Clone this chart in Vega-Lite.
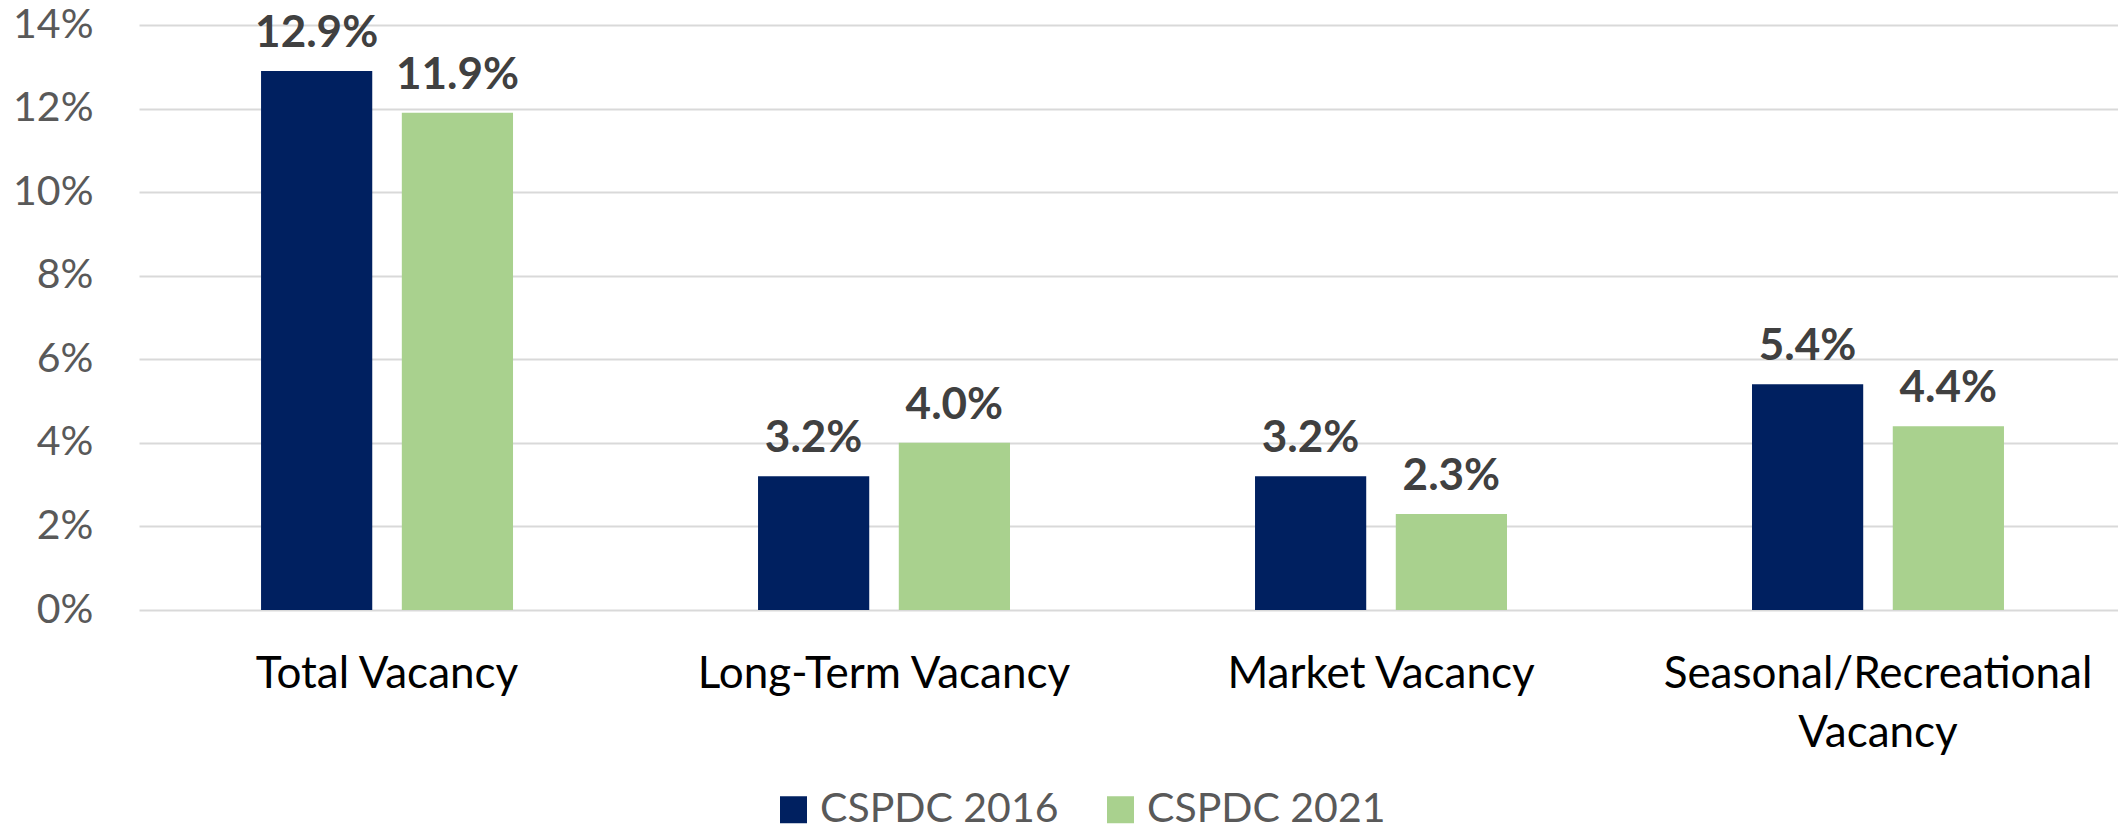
{
  "$schema": "https://vega.github.io/schema/vega-lite/v6.json",
  "width": 1979,
  "height": 585,
  "autosize": {"type": "none"},
  "padding": {"left": 139, "top": 25, "right": 0, "bottom": 219},
  "background": "white",
  "data": {
    "values": [
      {"category": "Total Vacancy", "series": "CSPDC 2016", "value": 0.129},
      {"category": "Total Vacancy", "series": "CSPDC 2021", "value": 0.119},
      {"category": "Long-Term Vacancy", "series": "CSPDC 2016", "value": 0.032},
      {"category": "Long-Term Vacancy", "series": "CSPDC 2021", "value": 0.040},
      {"category": "Market Vacancy", "series": "CSPDC 2016", "value": 0.032},
      {"category": "Market Vacancy", "series": "CSPDC 2021", "value": 0.023},
      {"category": "Seasonal/Recreational Vacancy", "series": "CSPDC 2016", "value": 0.054},
      {"category": "Seasonal/Recreational Vacancy", "series": "CSPDC 2021", "value": 0.044}
    ]
  },
  "encoding": {
    "x": {
      "field": "category",
      "type": "nominal",
      "sort": ["Total Vacancy", "Long-Term Vacancy", "Market Vacancy", "Seasonal/Recreational Vacancy"],
      "scale": {"paddingInner": 0.493, "paddingOuter": 0.2375, "align": 0.517},
      "axis": {
        "title": null,
        "domain": false,
        "ticks": false,
        "tickSize": 0,
        "labelAngle": 0,
        "labelFont": "Lato",
        "labelFontSize": 44,
        "labelColor": "#000000",
        "labelBaseline": "alphabetic",
        "labelPadding": 77,
        "labelLineHeight": 59,
        "labelLimit": 800,
        "labelOverlap": false,
        "labelExpr": "datum.value == 'Seasonal/Recreational Vacancy' ? ['Seasonal/Recreational', 'Vacancy'] : datum.value"
      }
    },
    "xOffset": {
      "field": "series",
      "type": "nominal",
      "sort": ["CSPDC 2016", "CSPDC 2021"],
      "scale": {"paddingInner": 0.21, "paddingOuter": 0}
    },
    "y": {
      "field": "value",
      "type": "quantitative",
      "scale": {"domain": [0, 0.14], "nice": false},
      "axis": {
        "title": null,
        "domain": false,
        "ticks": false,
        "grid": true,
        "gridColor": "#D9D9D9",
        "gridWidth": 2,
        "values": [0, 0.02, 0.04, 0.06, 0.08, 0.1, 0.12, 0.14],
        "format": ".0%",
        "labelFont": "Lato",
        "labelFontSize": 41,
        "labelColor": "#595959",
        "labelPadding": 46
      }
    }
  },
  "layer": [
    {
      "mark": {"type": "bar"},
      "encoding": {
        "color": {
          "field": "series",
          "type": "nominal",
          "scale": {"domain": ["CSPDC 2016", "CSPDC 2021"], "range": ["#002060", "#A9D18E"]},
          "legend": {
            "title": null,
            "orient": "none",
            "direction": "horizontal",
            "legendX": 634,
            "legendY": 764,
            "symbolType": "square",
            "symbolSize": 729,
            "symbolStrokeWidth": 0,
            "labelFont": "Lato",
            "labelFontSize": 41,
            "labelColor": "#595959",
            "labelOffset": 6,
            "columnPadding": 41,
            "labelLimit": 400
          }
        }
      }
    },
    {
      "mark": {
        "type": "text",
        "baseline": "alphabetic",
        "dy": -24,
        "font": "Lato",
        "fontSize": 44,
        "fontWeight": "bold",
        "color": "#404040"
      },
      "encoding": {
        "text": {"field": "value", "type": "quantitative", "format": ".1%"}
      }
    }
  ],
  "config": {"view": {"stroke": null}}
}
